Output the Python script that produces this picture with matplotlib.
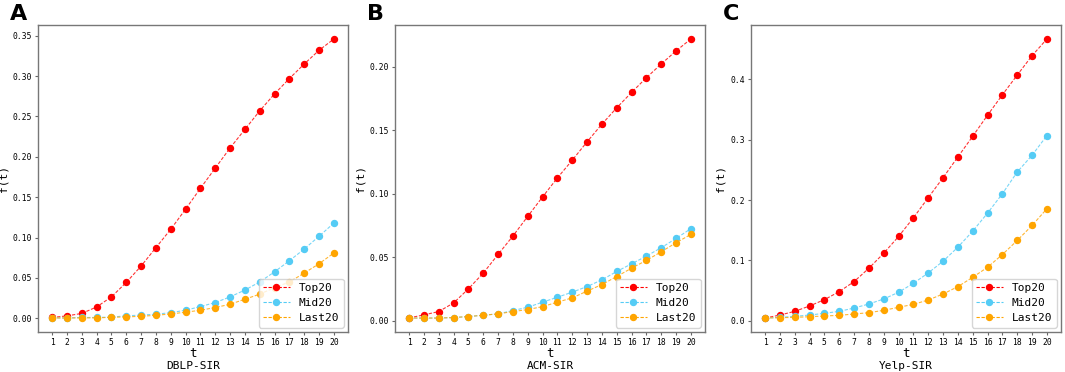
import matplotlib
matplotlib.use("Agg")
import matplotlib.pyplot as plt

plt.rcParams["font.family"] = ["DejaVu Sans Mono", "DejaVu Sans"]

t = list(range(1, 21))

dblp_top = [0.001, 0.003, 0.006, 0.014, 0.0265, 0.0444, 0.0647, 0.0875, 0.1103, 0.1352,
            0.161, 0.186, 0.211, 0.234, 0.257, 0.278, 0.297, 0.315, 0.332, 0.346]
dblp_mid = [0.0005, 0.0005, 0.001, 0.001, 0.0015, 0.003, 0.004, 0.005, 0.007, 0.010,
            0.0145, 0.0195, 0.0265, 0.035, 0.045, 0.0576, 0.0713, 0.0858, 0.1016, 0.118]
dblp_last = [0.0005, 0.0003, 0.0005, 0.0005, 0.0012, 0.0017, 0.0025, 0.0037, 0.0054, 0.0075,
             0.010, 0.0133, 0.0174, 0.0236, 0.0299, 0.038, 0.045, 0.056, 0.0676, 0.0809]

acm_top = [0.0021, 0.0045, 0.0071, 0.0139, 0.025, 0.0374, 0.0521, 0.0666, 0.0821, 0.0974,
           0.1124, 0.1263, 0.1408, 0.1547, 0.1676, 0.1797, 0.1913, 0.2021, 0.2124, 0.2218]
acm_mid = [0.002, 0.002, 0.002, 0.0024, 0.0032, 0.0042, 0.0053, 0.0079, 0.0105, 0.0145,
           0.0184, 0.0224, 0.0268, 0.0321, 0.0387, 0.0447, 0.0508, 0.0574, 0.0647, 0.0724]
acm_last = [0.002, 0.002, 0.002, 0.0024, 0.0032, 0.0042, 0.0053, 0.0071, 0.0087, 0.011,
            0.0145, 0.0179, 0.0232, 0.0284, 0.0347, 0.0413, 0.0474, 0.0542, 0.0613, 0.0679]

yelp_top = [0.0044, 0.0094, 0.0155, 0.0244, 0.0349, 0.0482, 0.0648, 0.087, 0.1119, 0.1396,
            0.1706, 0.2039, 0.2371, 0.2715, 0.3058, 0.3407, 0.3745, 0.4072, 0.4393, 0.467]
yelp_mid = [0.0044, 0.0055, 0.0072, 0.0094, 0.0122, 0.0155, 0.021, 0.0277, 0.036, 0.0471,
            0.062, 0.0792, 0.0986, 0.1219, 0.1485, 0.1784, 0.2105, 0.2465, 0.2742, 0.3069]
yelp_last = [0.0044, 0.005, 0.0055, 0.0066, 0.0078, 0.0089, 0.0111, 0.0133, 0.0172, 0.0222,
             0.0271, 0.0343, 0.0443, 0.0565, 0.072, 0.0886, 0.1097, 0.133, 0.1579, 0.1856]

panels = [
    ("A", "DBLP-SIR", dblp_top, dblp_mid, dblp_last, [0, 0.05, 0.10, 0.15, 0.20, 0.25, 0.30, 0.35], "{:.2f}"),
    ("B", "ACM-SIR", acm_top, acm_mid, acm_last, [0, 0.05, 0.10, 0.15, 0.20], "{:.2f}"),
    ("C", "Yelp-SIR", yelp_top, yelp_mid, yelp_last, [0, 0.1, 0.2, 0.3, 0.4], "{:.1f}"),
]

colors = ["#FF0000", "#55CCF5", "#FFA500"]
names = ["Top20", "Mid20", "Last20"]

fig = plt.figure(figsize=(10.65, 3.72), dpi=100)
lefts = [38 / 1065, 395 / 1065, 751 / 1065]
width = 310 / 1065
bottom = 1 - 332 / 372
height = 307 / 372

for (letter, sub, top, mid, last, yt, fmt), left in zip(panels, lefts):
    ax = fig.add_axes([left, bottom, width, height])
    for ys, c, n in zip([top, mid, last], colors, names):
        ax.plot(t, ys, "--", color=c, linewidth=0.8, alpha=0.8, dashes=(3, 1.5))
        ax.plot(t, ys, "o", color=c, markersize=4.3, label=n)
    handles = [plt.Line2D([0], [0], color=c, linestyle="--", dashes=(3, 1.5), marker="o",
                          markersize=4.3, linewidth=0.8, label=n) for c, n in zip(colors, names)]
    ax.legend(handles=handles, loc="lower right", fontsize=8, handlelength=2.4,
              framealpha=0.8, borderpad=0.4, labelspacing=0.45, handletextpad=0.8,
              borderaxespad=0.4)
    ax.set_xticks(t)
    ax.set_yticks(yt)
    ax.set_yticklabels([fmt.format(v) for v in yt])
    ax.tick_params(labelsize=5.8, length=2.5, pad=2, color="#666666")
    for s in ax.spines.values():
        s.set_color("#777777")
        s.set_linewidth(1.0)
    ax.set_ylabel("f(t)", fontsize=8, labelpad=3)
    ax.set_xlabel("t", fontsize=9, labelpad=0)
    ax.text(0.5, -0.095, sub, transform=ax.transAxes, ha="center", va="top", fontsize=8)
    fig.text(left - 28 / 1065, 1 - 4 / 372, letter, fontsize=16, fontweight="bold",
             family="DejaVu Sans", ha="left", va="top")

plt.savefig("out.png", dpi=100, facecolor="white")
